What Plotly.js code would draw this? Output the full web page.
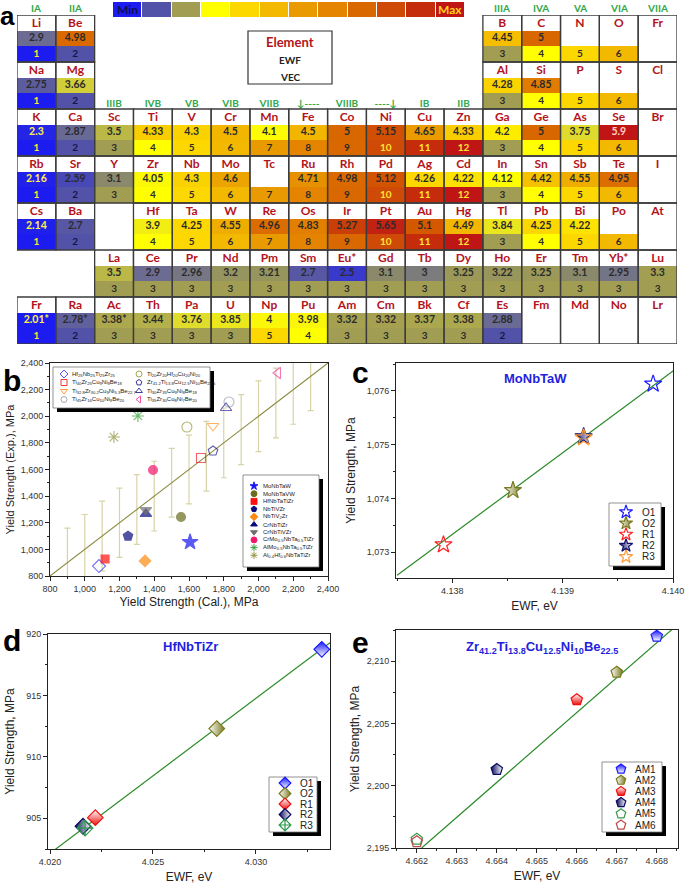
<!DOCTYPE html>
<html>
<head>
<meta charset="utf-8">
<script src="https://cdn.plot.ly/plotly-3.0.1.min.js"></script>
<style>
html,body{margin:0;padding:0;background:#ffffff;}
#chart{width:685px;height:886px;}
</style>
</head>
<body>
<div id="chart"></div>
<script>
// ================= DATA =================
// (a) periodic table: symbols per table row, group column, EWF (eV, text as printed) and VEC
const ptSymbols = [
  ['Li','Be','B','C','N','O','Fr'],
  ['Na','Mg','Al','Si','P','S','Cl'],
  ['K','Ca','Sc','Ti','V','Cr','Mn','Fe','Co','Ni','Cu','Zn','Ga','Ge','As','Se','Br'],
  ['Rb','Sr','Y','Zr','Nb','Mo','Tc','Ru','Rh','Pd','Ag','Cd','In','Sn','Sb','Te','I'],
  ['Cs','Ba','Hf','Ta','W','Re','Os','Ir','Pt','Au','Hg','Tl','Pb','Bi','Po','At'],
  ['La','Ce','Pr','Nd','Pm','Sm','Eu*','Gd','Tb','Dy','Ho','Er','Tm','Yb*','Lu'],
  ['Fr','Ra','Ac','Th','Pa','U','Np','Pu','Am','Cm','Bk','Cf','Es','Fm','Md','No','Lr']
];
const ptGroups = [
  [0,1,12,13,14,15,16],
  [0,1,12,13,14,15,16],
  [0,1,2,3,4,5,6,7,8,9,10,11,12,13,14,15,16],
  [0,1,2,3,4,5,6,7,8,9,10,11,12,13,14,15,16],
  [0,1,3,4,5,6,7,8,9,10,11,12,13,14,15,16],
  [2,3,4,5,6,7,8,9,10,11,12,13,14,15,16],
  [0,1,2,3,4,5,6,7,8,9,10,11,12,13,14,15,16]
];
const ptEWF = [
  ['2.9','4.98','4.45','5','','',''],
  ['2.75','3.66','4.28','4.85','','',''],
  ['2.3','2.87','3.5','4.33','4.3','4.5','4.1','4.5','5','5.15','4.65','4.33','4.2','5','3.75','5.9',''],
  ['2.16','2.59','3.1','4.05','4.3','4.6','','4.71','4.98','5.12','4.26','4.22','4.12','4.42','4.55','4.95',''],
  ['2.14','2.7','3.9','4.25','4.55','4.96','4.83','5.27','5.65','5.1','4.49','3.84','4.25','4.22','',''],
  ['3.5','2.9','2.96','3.2','3.21','2.7','2.5','3.1','3','3.25','3.22','3.25','3.1','2.95','3.3'],
  ['2.01*','2.78*','3.38*','3.44','3.76','3.85','4','3.98','3.32','3.32','3.37','3.38','2.88','','','','']
];
const ptVEC = [
  [1,2,3,4,5,6,null],
  [1,2,3,4,5,6,null],
  [1,2,3,4,5,6,7,8,9,10,11,12,3,4,5,6,null],
  [1,2,3,4,5,6,7,8,9,10,11,12,3,4,5,6,null],
  [1,2,4,5,6,7,8,9,10,11,12,3,4,5,6,null],
  [3,3,3,3,3,3,3,3,3,3,3,3,3,3,3],
  [1,2,3,3,3,3,5,4,3,3,3,3,2,null,null,null,null]
];
const groupTop = ['IA','IIA','IIIA','IVA','VA','VIA','VIIA'];
const groupTopCols = [0,1,12,13,14,15,16];
const groupMid = ['IIIB','IVB','VB','VIB','VIIB','\u2193----','VIIIB','----\u2193','IB','IIB'];
const groupMidCols = [2,3,4,5,6,7,8,9,10,11];
const scaleLevels = [1,2,3,4,5,6,7,8,9,10,11,12];

// (b) yield strength, calculated vs experimental (MPa)
const bFilledNames = ['MoNbTaW','MoNbTaVW','HfNbTaTiZr','NbTiVZr','NbTiV<sub>2</sub>Zr','CrNbTiZr','CrNbTiVZr',
  'CrMo<sub>0.5</sub>NbTa<sub>0.5</sub>TiZr','AlMo<sub>0.5</sub>NbTa<sub>0.5</sub>TiZr','Al<sub>0.4</sub>Hf<sub>0.6</sub>NbTaTiZr'];
const bFilledCal = [1606,1554,1117,1249,1347,1352,1352,1393,1306,1168];
const bFilledExp = [1055,1243,928,1100,913,1266,1296,1596,2002,1844];
const bOpenNames = [
  'Hf<sub>25</sub>Nb<sub>25</sub>Ti<sub>25</sub>Zr<sub>25</sub>',
  'Ti<sub>40</sub>Zr<sub>25</sub>Cu<sub>9</sub>Ni<sub>8</sub>Be<sub>18</sub>',
  'Ti<sub>32.8</sub>Zr<sub>30.2</sub>Cu<sub>9</sub>Ni<sub>5.3</sub>Be<sub>22.7</sub>',
  'Ti<sub>45</sub>Zr<sub>16</sub>Cu<sub>10</sub>Ni<sub>9</sub>Be<sub>20</sub>',
  'Ti<sub>20</sub>Zr<sub>20</sub>Hf<sub>20</sub>Cu<sub>20</sub>Ni<sub>20</sub>',
  'Zr<sub>41.2</sub>Ti<sub>13.8</sub>Cu<sub>12.5</sub>Ni<sub>10</sub>Be<sub>22.5</sub>',
  'Ti<sub>30</sub>Zr<sub>35</sub>Cu<sub>9</sub>Ni<sub>8</sub>Be<sub>18</sub>',
  'Ti<sub>35</sub>Zr<sub>30</sub>Cu<sub>8</sub>Ni<sub>7</sub>Be<sub>20</sub>'];
const bOpenCal = [1082,1669,1738,1830,1588,1738,1813,2112];
const bOpenExp = [875,1686,1927,2107,1919,1739,2062,2325];
const bErrX = [900,1000,1100,1200,1300,1400,1500,1600,1700,1800,1900,2000,2100,2200,2300];
const bErrHalf = [260,262,262,260,262,262,258,258,262,262,263,266,262,260,258];
const bRefLine = [800,2400];

// (c) MoNbTaW
const cLabels = ['O1','O2','R1','R2','R3'];
const cEWF = [4.13982,4.13855,4.13792,4.13919,4.13919];
const cYS = [1076.13,1074.15,1073.14,1075.15,1075.13];
const cFitEWF = [4.13750,4.14002];
const cFitYS = [1072.57,1076.40];

// (d) HfNbTiZr
const dLabels = ['O1','O2','R1','R2','R3'];
const dEWF = [4.0332,4.0281,4.0222,4.0216,4.0217];
const dYS = [918.75,912.3,905.05,904.35,904.2];
const dFitEWF = [4.0202,4.0340];
const dFitYS = [902.4,919.8];

// (e) Zr41.2Ti13.8Cu12.5Ni10Be22.5
const eLabels = ['AM1','AM2','AM3','AM4','AM5','AM6'];
const eEWF = [4.668,4.667,4.666,4.664,4.662,4.662];
const eYS = [2212.0,2209.1,2206.9,2201.3,2195.7,2195.5];
const eFitEWF = [4.66212,4.66840];
const eFitYS = [2195.0,2212.6];

// ================= STYLE / LAYOUT =================
const W = 685, H = 886;
const px = v => v / W, py = v => 1 - v / H;
const FONT = 'Liberation Sans, Arial, sans-serif';
const TFONT = 'Lato, Open Sans, sans-serif';
const TABLE_L = 17, TABLE_R = 677, TABLE_T = 15, TABLE_B = 344;
const colW = (TABLE_R - TABLE_L) / 17;

const vecPalette = ['#1c1cf0','#5252a8','#a19d52','#ffff00','#fcd700','#f2b900','#e99a00','#e48400','#da6800','#cf4a06','#c52c0c','#bf1515'];
const vecScale = [];
vecPalette.forEach((c,i)=>{ vecScale.push([i/12,c]); vecScale.push([(i+1)/12,c]); });
const ewfMin = 2.0, ewfMax = 5.9;
const ewfStops = [[2.0,'#1c1cf0'],[2.4,'#2828e2'],[2.65,'#5252a8'],[2.9,'#6c6c92'],[3.05,'#848472'],[3.3,'#a29e52'],
  [3.5,'#bcb848'],[3.7,'#d8d436'],[3.95,'#f8f40c'],[4.15,'#ffff00'],[4.25,'#fcd800'],[4.45,'#f5be00'],[4.6,'#eca400'],
  [4.75,'#e68a00'],[4.95,'#dc6e00'],[5.1,'#d45800'],[5.2,'#cc4606'],[5.5,'#c42a10'],[5.9,'#bf1515']];
const ewfScale = ewfStops.map(s => [(s[0]-ewfMin)/(ewfMax-ewfMin), s[1]]);

const traces = [];
const shapes = [];
const annotations = [];
function paperText(x, y, t, font){
  annotations.push({xref:'paper', yref:'paper', x:px(x), y:py(y), text:t, showarrow:false,
    xanchor:'center', yanchor:'middle', font:font});
}

// ---- (a) periodic table ----
const NR = 21, NC = 17;
const zE = Array.from({length:NR}, () => Array(NC).fill(null));
const zV = Array.from({length:NR}, () => Array(NC).fill(null));
const nX=[],nY=[],nT=[], eX=[],eY=[],eT=[],eC=[], vX=[],vY=[],vT=[],vC=[];
ptSymbols.forEach((row,p) => row.forEach((s,k) => {
  const c = ptGroups[p][k], ew = ptEWF[p][k], v = ptVEC[p][k], r0 = p*3;
  nX.push(c); nY.push(r0+0.05); nT.push('<b>'+s+'</b>');
  if (ew !== '') {
    const val = parseFloat(ew);
    zE[r0+1][c] = val;
    eX.push(c); eY.push(r0+1); eT.push('<b>'+ew+'</b>');
    eC.push(val < 2.45 ? '#fff04a' : (val > 5.8 ? '#ffd0c0' : '#2b2b2b'));
  }
  if (v !== null) {
    zV[r0+2][c] = v;
    vX.push(c); vY.push(r0+2); vT.push('<b>'+v+'</b>');
    vC.push(v === 1 || v >= 10 ? '#ffe632' : (v === 2 ? '#15154a' : '#2b2b2b'));
  }
  shapes.push({type:'rect', xref:'x', yref:'y', x0:c-0.5, x1:c+0.5, y0:r0-0.5, y1:r0+2.5,
    line:{color:'#3c3c3c', width:1.3}, layer:'above'});
}));
const rowIdx = Array.from({length:NR}, (_,i)=>i);
const colIdx = Array.from({length:NC}, (_,i)=>i);
traces.push({type:'heatmap', x:colIdx, y:rowIdx, z:zE, colorscale:ewfScale, zmin:ewfMin, zmax:ewfMax,
  showscale:false, hoverinfo:'skip', xaxis:'x', yaxis:'y'});
traces.push({type:'heatmap', x:colIdx, y:rowIdx, z:zV, colorscale:vecScale, zmin:0.5, zmax:12.5,
  showscale:false, hoverinfo:'skip', xaxis:'x', yaxis:'y'});
traces.push({type:'scatter', mode:'text', x:nX, y:nY, text:nT, cliponaxis:false, hoverinfo:'skip',
  textfont:{family:TFONT, size:12, color:'#b3141c'}, xaxis:'x', yaxis:'y'});
traces.push({type:'scatter', mode:'text', x:eX, y:eY, text:eT, cliponaxis:false, hoverinfo:'skip',
  textfont:{family:TFONT, size:10.5, color:eC}, xaxis:'x', yaxis:'y'});
traces.push({type:'scatter', mode:'text', x:vX, y:vY, text:vT, cliponaxis:false, hoverinfo:'skip',
  textfont:{family:TFONT, size:10, color:vC}, xaxis:'x', yaxis:'y'});
// group labels: top row above the table (paper coords), middle row inside the table
groupTop.forEach((g,i)=>{
  paperText(TABLE_L + (groupTopCols[i] + 0.5) * colW, 8, '<b>'+g+'</b>', {family:TFONT, size:10, color:'#2fa84a'});
});
traces.push({type:'scatter', mode:'text', x:groupMidCols, y:groupMidCols.map(()=>5.2),
  text:groupMid.map(t=>'<b>'+t+'</b>'), cliponaxis:false, hoverinfo:'skip',
  textfont:{family:TFONT, size:10, color:'#2fa84a'}, xaxis:'x', yaxis:'y'});

// colour scale bar
traces.push({type:'heatmap', z:[scaleLevels], x:scaleLevels.map((_,i)=>i), y:[0], colorscale:vecScale,
  zmin:0.5, zmax:12.5, showscale:false, hoverinfo:'skip', xgap:1, xaxis:'x2', yaxis:'y2'});
paperText(128, 9.5, '<b>Min</b>', {family:TFONT, size:12, color:'#0e0e55'});
paperText(450, 9.5, '<b>Max</b>', {family:TFONT, size:12, color:'#ffd21a'});

// key box
shapes.push({type:'rect', xref:'paper', yref:'paper', x0:px(248), x1:px(332), y0:py(84), y1:py(31),
  line:{color:'#333', width:1.2}, fillcolor:'rgba(255,255,255,0)'});
paperText(290, 42, '<b>Element</b>', {family:TFONT, size:13, color:'#b3141c'});
paperText(290, 60, '<b>EWF</b>', {family:TFONT, size:10, color:'#222'});
paperText(290, 77, '<b>VEC</b>', {family:TFONT, size:10, color:'#222'});

// ---- (b) ----
const bFilledStyle = {
  symbol:['star','circle','square','pentagon','diamond','triangle-up','triangle-down','circle','asterisk-open','asterisk-open'],
  color:['#1515ee','#6b6b1f','#ff1010','#0a0a80','#ff8a10','#0a0a80','#6e6e6e','#f0186c','#2e9a2e','#8e8e3a'],
  size:[12,9,8,10,9,10,10,9,10,10]
};
const bOpenStyle = {
  symbol:['diamond-open','square-open','triangle-down-open','circle-open','circle-open','pentagon-open','triangle-up-open','triangle-left-open'],
  color:['#3030ff','#ee2020','#ff9020','#9a9aa8','#9a9a3a','#1a1a88','#2a2a9a','#ee3f9a'],
  size:[10,9,10,10,10,10,10,10]
};
traces.push({type:'scatter', mode:'markers', x:bErrX, y:bErrX, xaxis:'x3', yaxis:'y3', hoverinfo:'skip',
  marker:{size:1, color:'rgba(0,0,0,0)'},
  error_y:{type:'data', array:bErrHalf, symmetric:true, color:'#d8d4a8', thickness:1.2, width:3}});
traces.push({type:'scatter', mode:'lines', x:bRefLine, y:bRefLine, xaxis:'x3', yaxis:'y3', hoverinfo:'skip',
  line:{color:'#8c8a40', width:1.1}});
traces.push({type:'scatter', mode:'markers', x:bOpenCal, y:bOpenExp, xaxis:'x3', yaxis:'y3', hoverinfo:'skip',
  marker:{symbol:bOpenStyle.symbol, color:bOpenStyle.color, size:bOpenStyle.size,
    line:{color:bOpenStyle.color, width:1.1}}});
traces.push({type:'scatter', mode:'markers', x:bFilledCal, y:bFilledExp, xaxis:'x3', yaxis:'y3', hoverinfo:'skip',
  marker:{symbol:bFilledStyle.symbol, color:bFilledStyle.color, size:bFilledStyle.size,
    line:{color:bFilledStyle.color, width:1.1}}});

// ---- (c) (d) (e) ----
const cStyles = [
  {symbol:'star-open', color:'#1a1aff', line:'#1a1aff'},
  {symbol:'star', color:'#ffffff', line:'#7a7a20', grad:{type:'horizontal', color:'#7a7a20'}},
  {symbol:'star-open', color:'#ff2020', line:'#ff2020'},
  {symbol:'star', color:'#10106a', line:'#10106a', grad:{type:'horizontal', color:'#ffffff'}},
  {symbol:'star-open', color:'#ff9933', line:'#ff9933'}
];
const dStyles = [
  {symbol:'diamond', color:'#1a1aff', line:'#1a1aff', grad:{type:'vertical', color:'#ffffff'}},
  {symbol:'diamond', color:'#ffffff', line:'#7a7a20', grad:{type:'horizontal', color:'#7a7a20'}},
  {symbol:'diamond', color:'#ffffff', line:'#ee1010', grad:{type:'vertical', color:'#ee1010'}},
  {symbol:'diamond', color:'#0a0a60', line:'#0a0a60', grad:{type:'horizontal', color:'#ffffff'}},
  {symbol:'diamond-cross-open', color:'#2a9a4a', line:'#2a9a4a'}
];
const eStyles = [
  {symbol:'pentagon', color:'#1a1aff', line:'#1a1aff', grad:{type:'vertical', color:'#ffffff'}},
  {symbol:'pentagon', color:'#ffffff', line:'#7a7a20', grad:{type:'horizontal', color:'#7a7a20'}},
  {symbol:'pentagon', color:'#ffffff', line:'#ee1010', grad:{type:'vertical', color:'#ee1010'}},
  {symbol:'pentagon', color:'#0a0a60', line:'#0a0a60', grad:{type:'horizontal', color:'#ffffff'}},
  {symbol:'pentagon-open', color:'#3a9a4a', line:'#3a9a4a'},
  {symbol:'pentagon-open', color:'#c04848', line:'#c04848'}
];
function mk(st, size){
  const m = {symbol:st.symbol, color:st.color, size:size, line:{color:st.line, width:1.2}};
  if (st.grad) m.gradient = st.grad;
  return m;
}
function addPanel(xs, ys, fitX, fitY, styles, xa, ya, size){
  traces.push({type:'scatter', mode:'lines', x:fitX, y:fitY, xaxis:xa, yaxis:ya, hoverinfo:'skip',
    line:{color:'#2a8a2a', width:1.2}});
  xs.forEach((x,i)=>{
    traces.push({type:'scatter', mode:'markers', x:[x], y:[ys[i]], xaxis:xa, yaxis:ya, hoverinfo:'skip',
      cliponaxis:false, marker:mk(styles[i], size)});
  });
}
addPanel(cEWF, cYS, cFitEWF, cFitYS, cStyles, 'x4', 'y4', 13);
addPanel(dEWF, dYS, dFitEWF, dFitYS, dStyles, 'x5', 'y5', 12);
addPanel(eEWF, eYS, eFitEWF, eFitYS, eStyles, 'x6', 'y6', 12);

// ---- legends (overlay pixel axis x7/y7) ----
function box(x0,y0,x1,y1){
  traces.push({type:'scatter', mode:'lines', x:[x0+4,x1+4,x1+4,x0+4,x0+4], y:[y0+4,y0+4,y1+4,y1+4,y0+4],
    fill:'toself', fillcolor:'#000', line:{color:'#000', width:0}, xaxis:'x7', yaxis:'y7', hoverinfo:'skip'});
  traces.push({type:'scatter', mode:'lines', x:[x0,x1,x1,x0,x0], y:[y0,y0,y1,y1,y0],
    fill:'toself', fillcolor:'#fff', line:{color:'#777', width:0.8}, xaxis:'x7', yaxis:'y7', hoverinfo:'skip'});
}
function legText(x, y, t, size){
  annotations.push({xref:'x7', yref:'y7', x:x, y:y, text:t, showarrow:false, xanchor:'left', yanchor:'middle',
    font:{family:FONT, size:size, color:'#222'}});
}
// b upper legend (open symbols, 2 columns x 4 rows)
box(53,367,210,408);
{
  const lx=[], ly=[];
  bOpenNames.forEach((n,i)=>{
    const col = Math.floor(i/4), row = i%4;
    const mx = col===0 ? 64 : 139, my = 374 + row*8.5;
    lx.push(mx); ly.push(my);
    legText(mx+6, my, n, 6);
  });
  traces.push({type:'scatter', mode:'markers', x:lx, y:ly, xaxis:'x7', yaxis:'y7', hoverinfo:'skip',
    marker:{symbol:bOpenStyle.symbol, color:bOpenStyle.color, size:6, line:{color:bOpenStyle.color, width:0.9}}});
}
// b lower legend (filled symbols)
box(243,475,319,567);
{
  const lx=[], ly=[];
  bFilledNames.forEach((n,i)=>{
    const my = 486 + i*7.7;
    lx.push(254); ly.push(my);
    legText(261, my, n, 6);
  });
  traces.push({type:'scatter', mode:'markers', x:lx, y:ly, xaxis:'x7', yaxis:'y7', hoverinfo:'skip',
    marker:{symbol:bFilledStyle.symbol, color:bFilledStyle.color, size:6, line:{color:bFilledStyle.color, width:0.9}}});
}
function smallLegend(labels, styles, x0, y0, x1, y1, firstY, step, mx, tx, msize){
  box(x0,y0,x1,y1);
  labels.forEach((l,i)=>{
    const my = firstY + i*step;
    traces.push({type:'scatter', mode:'markers', x:[mx], y:[my], xaxis:'x7', yaxis:'y7', hoverinfo:'skip',
      marker:mk(styles[i], msize)});
    legText(tx, my, l, 10);
  });
}
smallLegend(cLabels, cStyles, 609, 503, 661, 566, 512, 11.2, 626, 640, 10);
smallLegend(dLabels, dStyles, 269, 777, 317, 832, 783, 10.5, 285, 298, 9);
smallLegend(eLabels, eStyles, 602, 762, 662, 832, 769, 11.2, 621, 633, 10);

// panel titles inside plots
paperText(535, 378, '<b>MoNbTaW</b>', {family:FONT, size:13, color:'#1f1fdd'});
paperText(190, 646, '<b>HfNbTiZr</b>', {family:FONT, size:13, color:'#1f1fdd'});
paperText(542, 647, '<b>Zr<sub>41.2</sub>Ti<sub>13.8</sub>Cu<sub>12.5</sub>Ni<sub>10</sub>Be<sub>22.5</sub></b>',
  {family:FONT, size:13, color:'#1f1fdd'});
// panel letters
[['a',7,16,26],['b',12,380,30],['c',360,372,30],['d',12,640,30],['e',360,642,30]].forEach(l=>{
  paperText(l[1], l[2], '<b>'+l[0]+'</b>', {family:FONT, size:l[3], color:'#000'});
});

// ---- axes ----
const tickFont = {family:FONT, size:9, color:'#333'};
const titleFont = {family:FONT, size:12, color:'#222'};
function dataAxis(domain, range, dtick, tick0, minor, fmt, title, anchor, standoff, tsize){
  return {domain:domain, range:range, dtick:dtick, tick0:tick0, tickformat:fmt, anchor:anchor,
    ticks:'outside', ticklen:4, tickwidth:1, tickcolor:'#222',
    minor:{ticks:'outside', ticklen:2, dtick:minor, tick0:tick0, tickcolor:'#222'},
    showline:true, mirror:true, linecolor:'#222', linewidth:1, showgrid:false, zeroline:false,
    tickfont:tickFont, title:{text:title, font:Object.assign({}, titleFont, tsize ? {size:tsize} : {}), standoff:standoff},
    fixedrange:true};
}
const hidden = (domain, range, anchor) => ({domain:domain, range:range, anchor:anchor, visible:false,
  showgrid:false, zeroline:false, fixedrange:true});

const layout = {
  width:W, height:H, margin:{l:0,r:0,t:0,b:0}, showlegend:false,
  paper_bgcolor:'#ffffff', plot_bgcolor:'rgba(0,0,0,0)',
  xaxis: hidden([px(TABLE_L), px(TABLE_R)], [-0.5, 16.5], 'y'),
  yaxis: hidden([py(TABLE_B), py(TABLE_T)], [20.5, -0.5], 'x'),
  xaxis2: hidden([px(113), px(465)], [-0.5, 11.5], 'y2'),
  yaxis2: hidden([py(17), py(2)], [-0.5, 0.5], 'x2'),
  xaxis3: dataAxis([px(50), px(328)], [800,2400], 200, 800, 100, ',d', 'Yield Strength (Cal.), MPa', 'y3', 4),
  yaxis3: dataAxis([py(576), py(363)], [800,2400], 200, 800, 100, ',d', 'Yield Strength (Exp.), MPa', 'x3', 3, 11),
  xaxis4: dataAxis([px(396), px(673)], [4.13749,4.1400], 0.001, 4.138, 0.0005, '.3f', 'EWF, eV', 'y4', 6),
  yaxis4: dataAxis([py(578), py(363)], [1072.52,1076.52], 1, 1073, 0.5, ',d', 'Yield Strength, MPa', 'x4', 8),
  xaxis5: dataAxis([px(48), px(330)], [4.0199,4.0336], 0.005, 4.02, 0.0025, '.3f', 'EWF, eV', 'y5', 6),
  yaxis5: dataAxis([py(849), py(634)], [902.5,920], 5, 905, 2.5, 'd', 'Yield Strength, MPa', 'x5', 8),
  xaxis6: dataAxis([px(396), px(678)], [4.66148,4.66853], 0.001, 4.662, 0.0005, '.3f', 'EWF, eV', 'y6', 6),
  yaxis6: dataAxis([py(848), py(630)], [2195,2212.5], 5, 2195, 2.5, ',d', 'Yield Strength, MPa', 'x6', 4),
  xaxis7: hidden([0,1], [0,W], 'y7'),
  yaxis7: hidden([0,1], [H,0], 'x7'),
  shapes: shapes,
  annotations: annotations
};
Plotly.newPlot('chart', traces, layout, {staticPlot:true, displayModeBar:false});
</script>
</body>
</html>
